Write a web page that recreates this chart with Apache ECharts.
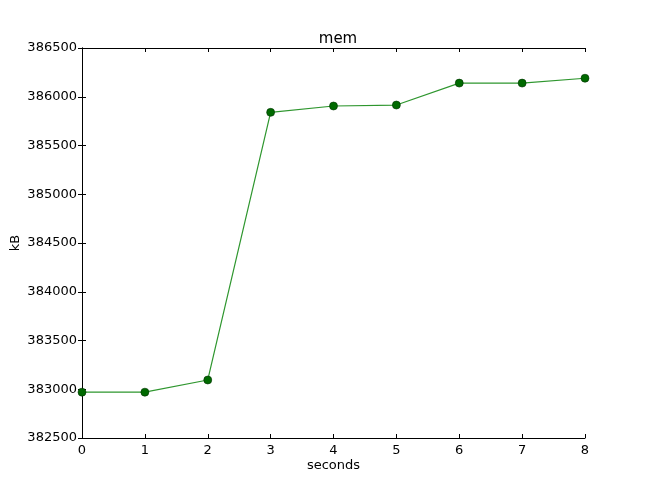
<!DOCTYPE html>
<html>
<head>
<meta charset="utf-8">
<script src="https://cdn.jsdelivr.net/npm/echarts@6/dist/echarts.min.js"></script>
<style>
  html, body { margin: 0; padding: 0; background: #fff; }
  #chart { width: 650px; height: 488px; }
</style>
</head>
<body>
<div id="chart"></div>
<script>
// data
const seconds = [0, 1, 2, 3, 4, 5, 6, 7, 8];
const memKB = [382970, 382970, 383095, 385840, 385905, 385915, 386140, 386140, 386190];

const yMin = 382500;
const yMax = 386500;
const yStep = 500;

const chart = echarts.init(document.getElementById('chart'));

// mirrored axes on top/right: no labels, inward ticks
const tickStyle = { inside: true, length: 4, lineStyle: { color: '#000', width: 1 } };
const lineStyle = { show: true, lineStyle: { color: '#000', width: 1 } };
const font = { color: '#000', fontSize: 13, fontFamily: 'DejaVu Sans' };

chart.setOption({
  animation: false,
  title: {
    text: 'mem',
    left: 333,
    top: 27,
    textAlign: 'center',
    textStyle: { color: '#000', fontSize: 15, fontWeight: 'normal', fontFamily: 'DejaVu Sans' }
  },
  grid: { left: 82, right: 65, top: 48, bottom: 50, containLabel: false, outerBoundsMode: 'none' },
  xAxis: [
    {
      type: 'value',
      min: 0, max: 8, interval: 1,
      position: 'bottom',
      name: 'seconds',
      nameLocation: 'middle',
      nameGap: 21,
      nameMoveOverlap: false,
      nameTextStyle: font,
      axisLine: lineStyle,
      axisTick: tickStyle,
      axisLabel: Object.assign({ margin: 6, formatter: v => String(v) }, font),
      splitLine: { show: false }
    },
    {
      type: 'value',
      min: 0, max: 8, interval: 1,
      position: 'top',
      axisLine: lineStyle,
      axisTick: tickStyle,
      axisLabel: { show: false },
      splitLine: { show: false }
    }
  ],
  yAxis: [
    {
      type: 'value',
      min: yMin, max: yMax, interval: yStep,
      position: 'left',
      name: 'kB',
      nameLocation: 'middle',
      nameGap: 60,
      nameMoveOverlap: false,
      nameRotate: 90,
      nameTextStyle: font,
      axisLine: lineStyle,
      axisTick: tickStyle,
      axisLabel: Object.assign({ margin: 5, formatter: v => String(v) }, font),
      splitLine: { show: false }
    },
    {
      type: 'value',
      min: yMin, max: yMax, interval: yStep,
      position: 'right',
      axisLine: lineStyle,
      axisTick: tickStyle,
      axisLabel: { show: false },
      splitLine: { show: false }
    }
  ],
  series: [
    {
      type: 'line',
      data: seconds.map((s, i) => [s, memKB[i]]),
      symbol: 'circle',
      symbolSize: 8,
      clip: false,
      lineStyle: { color: '#2e962e', width: 1.2 },
      itemStyle: { color: '#006a00', borderColor: '#003000', borderWidth: 0.6 }
    }
  ]
});

window.addEventListener('resize', () => chart.resize());
</script>
</body>
</html>
